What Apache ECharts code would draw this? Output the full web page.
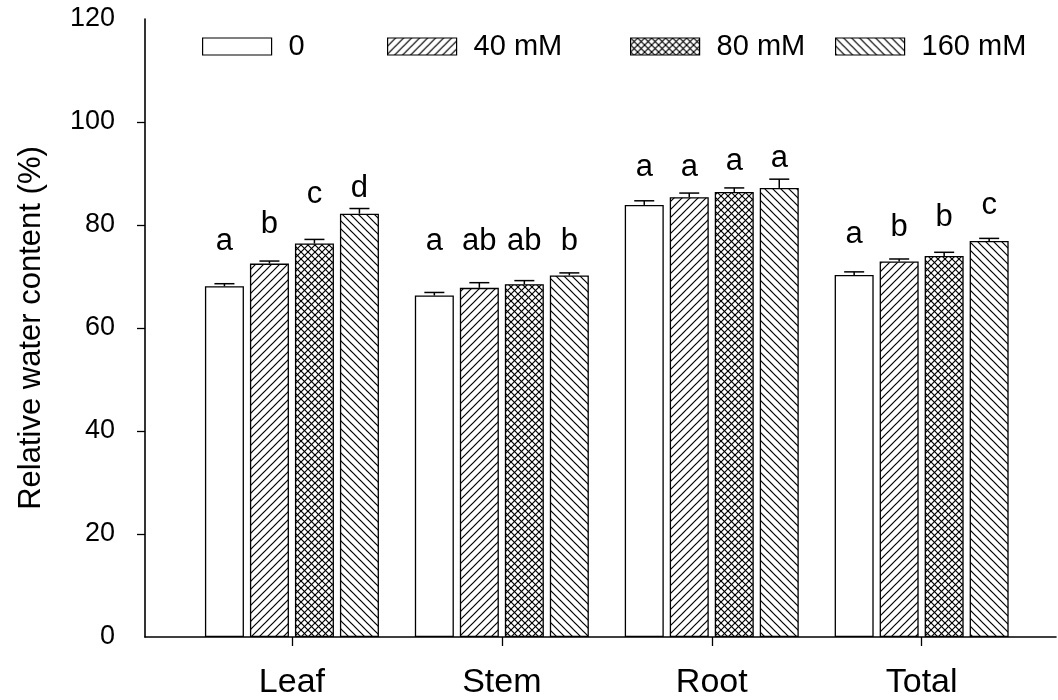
<!DOCTYPE html>
<html><head><meta charset="utf-8">
<script src="https://cdn.jsdelivr.net/npm/echarts@6/dist/echarts.min.js"></script>
<style>html,body{margin:0;padding:0;background:#fff}#c{width:1058px;height:700px}</style>
</head><body><div id="c"></div>
<script>
// ---------- data ----------
const categories = ['Leaf', 'Stem', 'Root', 'Total'];
const seriesNames = ['0', '40 mM', '80 mM', '160 mM'];
const values0   = [68.1, 66.3, 83.9, 70.3];
const values40  = [72.5, 67.8, 85.4, 72.9];
const values80  = [76.4, 68.5, 86.4, 74.0];
const values160 = [82.2, 70.2, 87.2, 76.9];
const errors0   = [0.5, 0.6, 0.8, 0.6];
const errors40  = [0.5, 1.0, 0.8, 0.5];
const errors80  = [0.8, 0.7, 0.8, 0.7];
const errors160 = [1.0, 0.5, 1.7, 0.5];
const letters0   = ['a', 'a', 'a', 'a'];
const letters40  = ['b', 'ab', 'a', 'b'];
const letters80  = ['c', 'ab', 'a', 'b'];
const letters160 = ['d', 'b', 'a', 'c'];
// baseline height (in % units) of each significance letter
const letterY0   = [75.4, 75.4, 89.7, 76.8];
const letterY40  = [78.6, 75.4, 89.7, 78.0];
const letterY80  = [84.5, 75.4, 90.8, 80.1];
const letterY160 = [85.6, 75.4, 91.5, 82.3];
const yTickValues = [20, 40, 60, 80, 100];

// ---------- layout / style ----------
const FONT = 'Liberation Sans, Arial, Helvetica, sans-serif';
const BAR_W = 39, BAR_GAP = 6, CAP = 10;
const legendLeft = [202, 387, 630, 835];

const allValues = [values0, values40, values80, values160];
const allErrors = [errors0, errors40, errors80, errors160];
const allLetters = [letters0, letters40, letters80, letters160];
const allLetterY = [letterY0, letterY40, letterY80, letterY160];

function makePattern(kind) {
  const s = kind === 'cross' ? 7 : 8;
  const c = document.createElement('canvas');
  c.width = s; c.height = s;
  const g = c.getContext('2d');
  g.fillStyle = '#fff'; g.fillRect(0, 0, s, s);
  g.strokeStyle = '#000'; g.lineWidth = 1.2;
  function ln(x1, y1, x2, y2) { g.beginPath(); g.moveTo(x1, y1); g.lineTo(x2, y2); g.stroke(); }
  if (kind === 'fwd' || kind === 'cross') {
    ln(-1, s + 1, s + 1, -1); ln(-1, 1, 1, -1); ln(s - 1, s + 1, s + 1, s - 1);
  }
  if (kind === 'back' || kind === 'cross') {
    ln(-1, -1, s + 1, s + 1); ln(-1, s - 1, 1, s + 1); ln(s - 1, -1, s + 1, 1);
  }
  return { image: c, repeat: 'repeat' };
}
const fills = ['#ffffff', makePattern('fwd'), makePattern('cross'), makePattern('back')];

const barSeries = seriesNames.map((name, k) => ({
  name: name,
  type: 'bar',
  barWidth: BAR_W,
  barGap: (BAR_GAP / BAR_W * 100) + '%',
  data: allValues[k].map((v, i) => [i, v]),
  itemStyle: { color: fills[k], borderColor: '#000', borderWidth: 1.3 },
  emphasis: { disabled: true },
  silent: true,
  z: 2
}));

const errData = [];
const letterData = [];
allValues.forEach((arr, k) => arr.forEach((v, i) => {
  errData.push([i, v, allErrors[k][i], k]);
  letterData.push([i, allLetterY[k][i], k, allLetters[k][i]]);
}));

function offsetX(k) { return (k - 1.5) * (BAR_W + BAR_GAP); }

const errSeries = {
  type: 'custom',
  silent: true,
  z: 3,
  data: errData,
  encode: { x: 0, y: 1 },
  renderItem: (params, api) => {
    const i = api.value(0), v = api.value(1), e = api.value(2), k = api.value(3);
    const b = api.coord([i, v]);
    const t = api.coord([i, v + e]);
    const x = b[0] + offsetX(k);
    return {
      type: 'group',
      children: [
        { type: 'line', shape: { x1: x, y1: b[1], x2: x, y2: t[1] }, style: { stroke: '#000', lineWidth: 1.5 } },
        { type: 'line', shape: { x1: x - CAP, y1: t[1], x2: x + CAP, y2: t[1] }, style: { stroke: '#000', lineWidth: 1.5 } }
      ]
    };
  }
};

const letterSeries = {
  type: 'custom',
  silent: true,
  z: 4,
  data: letterData,
  dimensions: ['x', 'y', 'k', { name: 'txt', type: 'ordinal' }],
  encode: { x: 0, y: 1 },
  renderItem: (params, api) => {
    const d = letterData[params.dataIndex];
    const p = api.coord([d[0], d[1]]);
    return {
      type: 'text',
      style: {
        text: d[3], x: p[0] + offsetX(d[2]), y: p[1] + 8,
        align: 'center', verticalAlign: 'bottom',
        font: '31px ' + FONT, fill: '#000'
      }
    };
  }
};

const chart = echarts.init(document.getElementById('c'), null, { renderer: 'canvas' });
chart.setOption({
  animation: false,
  backgroundColor: '#fff',
  grid: { left: 145, right: 2, top: 19, bottom: 61, containLabel: false },
  legend: seriesNames.map((n, k) => ({
    data: [n], left: legendLeft[k], top: 32, padding: 0,
    itemWidth: 69, itemHeight: 17, icon: 'rect', selectedMode: false,
    itemStyle: { borderColor: '#000', borderWidth: 1.2 },
    textStyle: { fontSize: 29, color: '#000', fontFamily: FONT, padding: [0, 0, 0, 12] }
  })),
  xAxis: {
    type: 'value', min: -0.7, max: 3.64,
    axisLine: { show: true, onZero: false, lineStyle: { color: '#000', width: 1.6 } },
    axisTick: { show: true, customValues: [0, 1, 2, 3], length: 9, lineStyle: { color: '#000', width: 1.3 } },
    axisLabel: { customValues: [0, 1, 2, 3], formatter: v => categories[Math.round(v)], fontSize: 34, margin: 29, color: '#000', fontFamily: FONT },
    splitLine: { show: false }
  },
  yAxis: {
    type: 'value', min: 0, max: 120, interval: 20,
    name: 'Relative water content (%)', nameLocation: 'middle', nameGap: 98,
    nameTextStyle: { fontSize: 31, color: '#000', fontFamily: FONT },
    axisLine: { show: true, onZero: false, lineStyle: { color: '#000', width: 1.6 } },
    axisTick: { show: true, customValues: yTickValues, length: 8, lineStyle: { color: '#000', width: 1.3 } },
    axisLabel: { fontSize: 27, margin: 30, color: '#000', fontFamily: FONT },
    splitLine: { show: false }
  },
  series: [...barSeries, errSeries, letterSeries]
});
</script>
</body></html>
